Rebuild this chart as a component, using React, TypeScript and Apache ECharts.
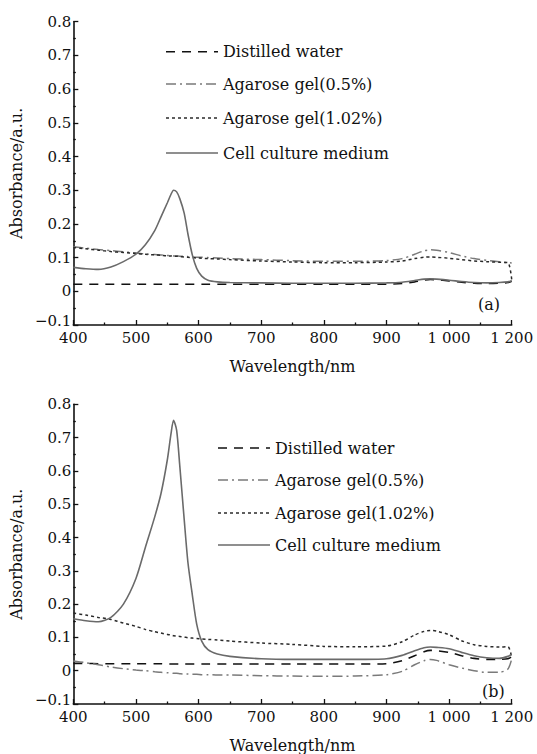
import React, { useEffect, useRef } from "react";
import * as echarts from "echarts";

// Sample positions along the drawn wavelength axis (axis units as drawn in the figure)
const X = [400, 420, 440, 460, 480, 500, 515, 530, 540, 550, 556, 560, 565, 570, 577, 583, 590, 597, 605, 615, 630, 650, 700, 750, 800, 850, 900, 925, 945, 960, 970, 980, 1000, 1020, 1040, 1060, 1080, 1094, 1100];

// Panel (a)
const waterA = [0.021, 0.021, 0.021, 0.021, 0.021, 0.021, 0.021, 0.021, 0.021, 0.021, 0.021, 0.021, 0.021, 0.021, 0.021, 0.021, 0.021, 0.021, 0.021, 0.021, 0.021, 0.021, 0.021, 0.021, 0.021, 0.021, 0.021, 0.023, 0.028, 0.033, 0.035, 0.034, 0.031, 0.027, 0.024, 0.023, 0.024, 0.026, 0.03];
const agar05A = [0.132, 0.128, 0.124, 0.121, 0.117, 0.114, 0.111, 0.109, 0.108, 0.106, 0.106, 0.105, 0.105, 0.104, 0.104, 0.103, 0.102, 0.101, 0.101, 0.1, 0.099, 0.097, 0.094, 0.091, 0.089, 0.089, 0.091, 0.097, 0.11, 0.12, 0.123, 0.122, 0.115, 0.105, 0.097, 0.092, 0.088, 0.085, 0.084];
const agar102A = [0.13, 0.126, 0.122, 0.118, 0.115, 0.112, 0.11, 0.108, 0.107, 0.105, 0.105, 0.104, 0.104, 0.103, 0.102, 0.101, 0.1, 0.099, 0.098, 0.097, 0.096, 0.094, 0.09, 0.087, 0.085, 0.085, 0.087, 0.09, 0.097, 0.101, 0.102, 0.101, 0.098, 0.094, 0.09, 0.088, 0.086, 0.085, 0.035];
const cellA = [0.071, 0.067, 0.065, 0.072, 0.088, 0.11, 0.138, 0.18, 0.221, 0.262, 0.288, 0.3, 0.295, 0.275, 0.232, 0.17, 0.108, 0.068, 0.045, 0.033, 0.028, 0.026, 0.025, 0.024, 0.024, 0.024, 0.025, 0.027, 0.032, 0.036, 0.037, 0.036, 0.033, 0.029, 0.026, 0.025, 0.026, 0.028, 0.031];

// Panel (b)
const waterB = [0.022, 0.022, 0.021, 0.021, 0.021, 0.021, 0.021, 0.021, 0.021, 0.02, 0.02, 0.02, 0.02, 0.02, 0.02, 0.02, 0.02, 0.02, 0.02, 0.02, 0.02, 0.02, 0.02, 0.02, 0.02, 0.02, 0.021, 0.03, 0.045, 0.057, 0.061, 0.06, 0.055, 0.045, 0.037, 0.034, 0.034, 0.036, 0.042];
const agar05B = [0.029, 0.024, 0.018, 0.011, 0.006, 0.002, 0.0, -0.003, -0.005, -0.006, -0.007, -0.008, -0.008, -0.009, -0.01, -0.01, -0.011, -0.011, -0.012, -0.012, -0.013, -0.013, -0.015, -0.016, -0.017, -0.016, -0.012, -0.002, 0.018, 0.03, 0.034, 0.031, 0.018, 0.008, 0.0, -0.005, -0.005, 0.005, 0.035];
const agar102B = [0.173, 0.167, 0.16, 0.154, 0.143, 0.133, 0.124, 0.117, 0.113, 0.109, 0.107, 0.105, 0.104, 0.103, 0.101, 0.099, 0.098, 0.097, 0.095, 0.094, 0.092, 0.089, 0.083, 0.079, 0.073, 0.072, 0.074, 0.087, 0.107, 0.118, 0.121, 0.119, 0.108, 0.09, 0.078, 0.073, 0.071, 0.072, 0.04];
const cellB = [0.156, 0.15, 0.147, 0.16, 0.2, 0.277, 0.37, 0.462, 0.532, 0.632, 0.712, 0.752, 0.722, 0.615, 0.455, 0.325, 0.228, 0.14, 0.089, 0.063, 0.05, 0.043, 0.036, 0.034, 0.034, 0.034, 0.036, 0.046, 0.06, 0.069, 0.071, 0.07, 0.066, 0.055, 0.045, 0.039, 0.037, 0.043, 0.05];

const SERIES_NAMES = ["Distilled water", "Agarose gel(0.5%)", "Agarose gel(1.02%)", "Cell culture medium"];
// tick labels as printed in the figure (last tick is printed "1 200")
const X_TICKS = [400, 500, 600, 700, 800, 900, 1000, 1100];
const X_TICK_LABELS = ["400", "500", "600", "700", "800", "900", "1 000", "1 200"];
const PANEL_LABELS = ["(a)", "(b)"];

const FONT = "DejaVu Serif";

export default function App() {
  const ref = useRef<HTMLDivElement>(null);
  useEffect(() => {
    if (!ref.current) return;
    const chart = echarts.init(ref.current, null, { renderer: "svg" });
    const styles: any[] = [
      { color: "#111", type: [9, 7], width: 1.6 },
      { color: "#7a7a7a", type: [10, 4, 2, 4], width: 1.5 },
      { color: "#2a2a2a", type: [3, 3], width: 1.5 },
      { color: "#6a6a6a", type: "solid", width: 1.6 },
    ];
    const panels = [
      [waterA, agar05A, agar102A, cellA],
      [waterB, agar05B, agar102B, cellB],
    ];
    const series: any[] = [];
    panels.forEach((p, gi) => {
      p.forEach((vals, si) => {
        series.push({
          type: "line",
          name: SERIES_NAMES[si],
          xAxisIndex: gi,
          yAxisIndex: gi,
          data: X.map((x, i) => [x, vals[i]]),
          symbol: "none",
          smooth: 0.25,
          lineStyle: styles[si],
          z: si === 3 ? 3 : 2,
        });
      });
    });
    const grids = [
      { left: 59.3, top: 21.7, width: 452.4, height: 303.3 },
      { left: 59.3, top: 404.3, width: 452.4, height: 302.4 },
    ];
    const xAxis = grids.map((_, gi) => ({
      type: "value",
      gridIndex: gi,
      min: 400,
      max: 1100,
      interval: 100,
      name: "Wavelength/nm",
      nameLocation: "middle",
      nameGap: 33,
      nameTextStyle: { fontFamily: FONT, fontSize: 16, color: "#111" },
      axisLine: { show: true, onZero: false, lineStyle: { color: "#111", width: 1.6 } },
      axisTick: { show: true, inside: true, length: 5, lineStyle: { color: "#111", width: 1.3 } },
      minorTick: { show: true, splitNumber: 2, length: 2.5, lineStyle: { color: "#111", width: 1.3 } },
      splitLine: { show: false },
      axisLabel: {
        margin: 7,
        lineHeight: 12,
        fontFamily: FONT,
        fontSize: 15,
        color: "#111",
        formatter: (v: number) => {
          const i = X_TICKS.indexOf(v);
          return i >= 0 ? X_TICK_LABELS[i] : "";
        },
      },
    }));
    const yAxis = grids.map((_, gi) => ({
      type: "value",
      gridIndex: gi,
      min: -0.1,
      max: 0.8,
      interval: 0.1,
      name: "Absorbance/a.u.",
      nameLocation: "middle",
      nameGap: 34,
      nameTextStyle: { fontFamily: FONT, fontSize: 16, color: "#111" },
      axisLine: { show: true, onZero: false, lineStyle: { color: "#111", width: 1.6 } },
      axisTick: { show: true, inside: true, length: 5, lineStyle: { color: "#111", width: 1.3 } },
      minorTick: { show: true, splitNumber: 2, length: 2.5, lineStyle: { color: "#111", width: 1.3 } },
      splitLine: { show: false },
      axisLabel: {
        margin: 2,
        lineHeight: 12,
        fontFamily: FONT,
        fontSize: 15,
        color: "#111",
        formatter: (v: number) => {
          const r = Math.round(v * 10) / 10;
          if (r === 0) return "0";
          if (r < 0) return "{lo|\u2212" + Math.abs(r).toFixed(1) + "}";
          return r.toFixed(1);
        },
        rich: {
          lo: { fontFamily: FONT, fontSize: 15, color: "#111", lineHeight: 12, padding: [0, 0, 8, 0] },
        },
      },
    }));

    // hand-drawn legends (line sample + label), one per panel
    const legendLayouts = [
      { x0: 166, x1: 218, tx: 223, ys: [51.7, 84, 118, 153] },
      { x0: 218, x1: 270, tx: 275, ys: [448, 480, 513, 545] },
    ];
    const graphic: any[] = [];
    legendLayouts.forEach((L) => {
      SERIES_NAMES.forEach((name, si) => {
        const s = styles[si];
        graphic.push({
          type: "line",
          shape: { x1: L.x0, y1: L.ys[si], x2: L.x1, y2: L.ys[si] },
          style: {
            stroke: s.color,
            lineWidth: s.width,
            lineDash: Array.isArray(s.type) ? s.type : null,
          },
        });
        graphic.push({
          type: "text",
          x: L.tx,
          y: L.ys[si],
          style: {
            text: name,
            font: `16px "${FONT}"`,
            fill: "#111",
            textVerticalAlign: "middle",
            verticalAlign: "middle",
          },
        });
      });
    });
    graphic.push(
      { type: "text", x: 478, y: 296, style: { text: PANEL_LABELS[0], font: `16px "${FONT}"`, fill: "#111" } },
      { type: "text", x: 482, y: 683, style: { text: PANEL_LABELS[1], font: `16px "${FONT}"`, fill: "#111" } }
    );

    chart.setOption({
      animation: false,
      backgroundColor: "#fff",
      grid: grids,
      xAxis,
      yAxis,
      graphic,
      series,
    });
    return () => chart.dispose();
  }, []);
  return <div ref={ref} style={{ position: "fixed", left: 0, top: 0, width: 537, height: 754 }} />;
}
